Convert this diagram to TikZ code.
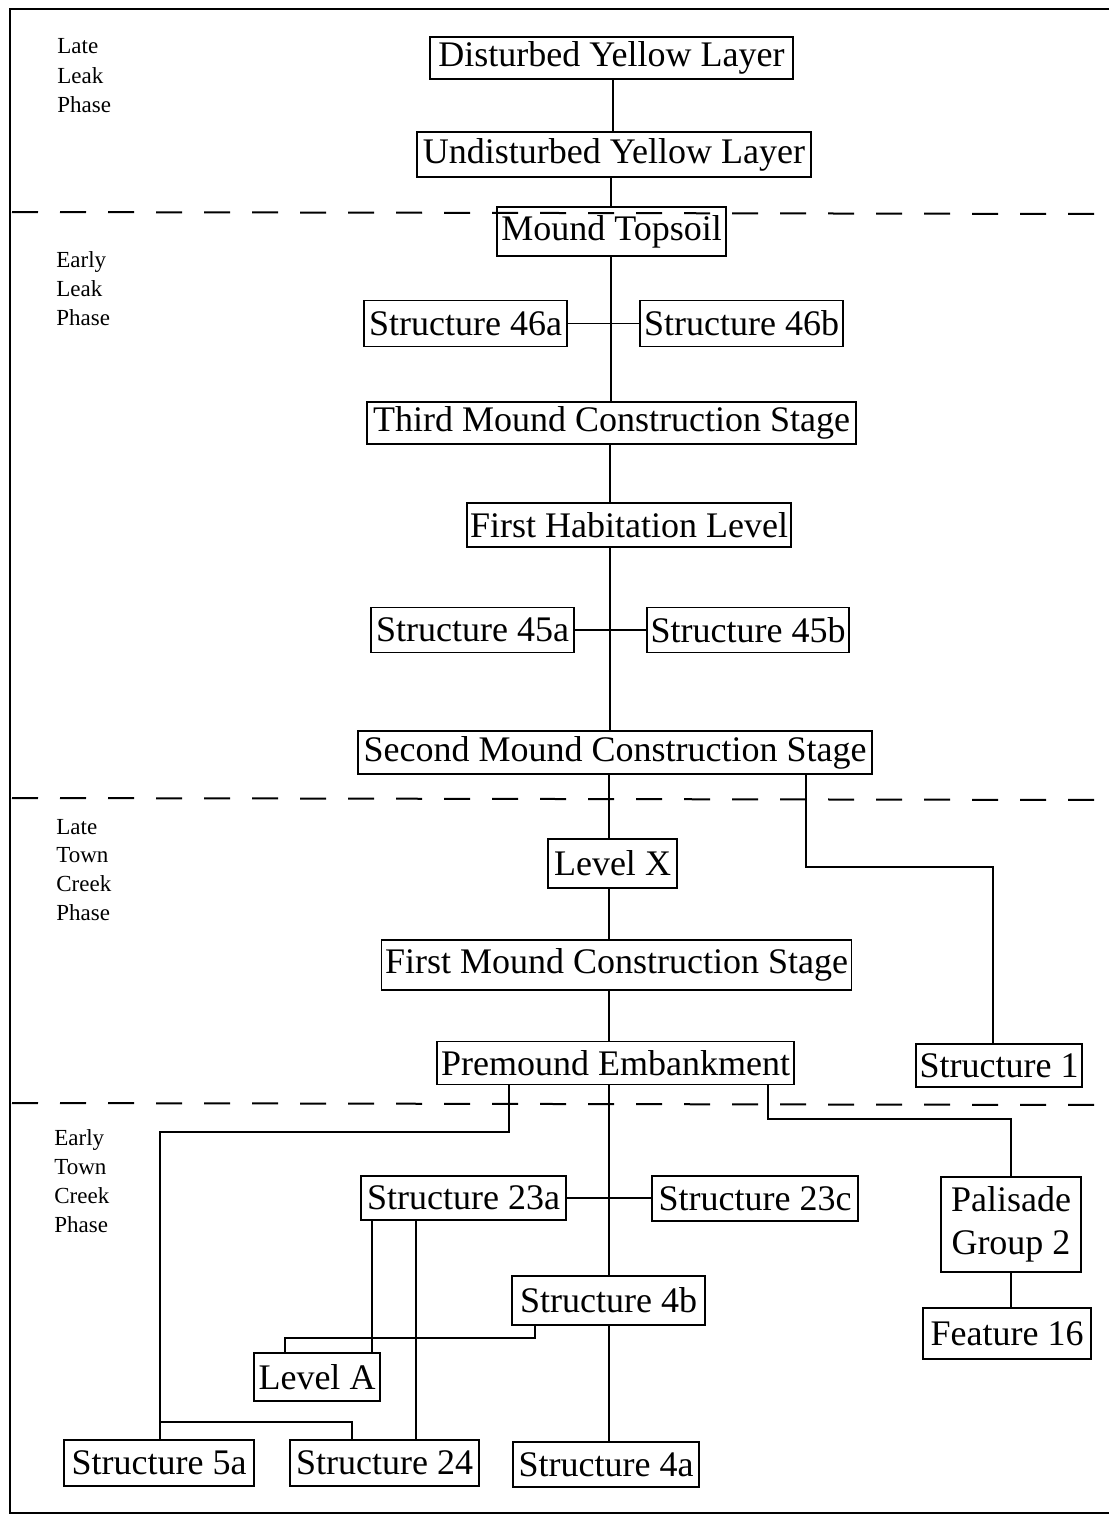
\documentclass[tikz,border=0pt]{standalone}
\usepackage{fontspec}
\setmainfont{Liberation Serif}
\begin{document}
\begin{tikzpicture}[x=0.5pt, y=-0.5pt,
  unit/.style={draw, line width=0.9pt, inner sep=0pt, align=center,
    font=\fontsize{18}{21.5}\selectfont},
  phase/.style={anchor=base west, inner sep=0pt,
    font=\fontsize{11.5}{14}\selectfont},
  link/.style={line width=0.9pt},
  divider/.style={line width=1pt, dash pattern=on 13pt off 11pt}]

\useasboundingbox (0,0) rectangle (1109,1515);

% frame
\draw[line width=1.1pt] (1109,9) -- (10,9) -- (10,1513) -- (1109,1513);

% phase dividers
\draw[divider] (12,212) -- (1109,214);
\draw[divider] (12,798) -- (1109,800);
\draw[divider] (12,1103) -- (1109,1105);

% phase labels
\node[phase] (l1a) at (57,54) {Late};
\node[phase] (l1b) at (57,83) {Leak};
\node[phase] (l1c) at (57,112) {Phase};
\node[phase] (l2a) at (56,267) {Early};
\node[phase] (l2b) at (56,296) {Leak};
\node[phase] (l2c) at (56,325) {Phase};
\node[phase] (l3a) at (56,834) {Late};
\node[phase] (l3b) at (56,862) {Town};
\node[phase] (l3c) at (56,891) {Creek};
\node[phase] (l3d) at (56,920) {Phase};
\node[phase] (l4a) at (54,1145) {Early};
\node[phase] (l4b) at (54,1174) {Town};
\node[phase] (l4c) at (54,1203) {Creek};
\node[phase] (l4d) at (54,1232) {Phase};

% stratigraphic units
\node[unit, minimum width=181.5pt, minimum height=21pt]   (dyl)  at (611.5,58)   {Disturbed Yellow Layer};
\node[unit, minimum width=197pt,   minimum height=22.5pt] (uyl)  at (614,154.5)  {Undisturbed Yellow Layer};
\node[unit, minimum width=114.5pt, minimum height=24.5pt] (mt)   at (611.5,231.5) {Mound Topsoil};
\node[unit, minimum width=101.5pt, minimum height=23pt]   (s46a) at (465.5,323.5) {Structure 46a};
\node[unit, minimum width=101.5pt, minimum height=23pt]   (s46b) at (741.5,323.5) {Structure 46b};
\node[unit, minimum width=244.5pt, minimum height=21pt]   (tmcs) at (611.5,423)  {Third Mound Construction Stage};
\node[unit, minimum width=162pt,   minimum height=22pt]   (fhl)  at (629,525)    {First Habitation Level};
\node[unit, minimum width=101.5pt, minimum height=22.5pt] (s45a) at (472.5,630)  {Structure 45a};
\node[unit, minimum width=101pt,   minimum height=22.5pt] (s45b) at (748,630)    {Structure 45b};
\node[unit, minimum width=257pt,   minimum height=21.5pt] (smcs) at (615,752.5)  {Second Mound Construction Stage};
\node[unit, minimum width=64.5pt,  minimum height=24.5pt] (lx)   at (612.5,863.5) {Level X};
\node[unit, minimum width=235pt,   minimum height=25pt]   (fmcs) at (616.5,965)  {First Mound Construction Stage};
\node[unit, minimum width=178.5pt, minimum height=21.5pt] (pe)   at (615.5,1063) {Premound Embankment};
\node[unit, minimum width=83pt,    minimum height=21.5pt] (s1)   at (999,1065.5) {Structure 1};
\node[unit, minimum width=102.5pt, minimum height=22pt]   (s23a) at (463.5,1198) {Structure 23a};
\node[unit, minimum width=103pt,   minimum height=22.5pt] (s23c) at (755,1198.5) {Structure 23c};
\node[unit, minimum width=70pt,    minimum height=47.5pt] (pg2)  at (1011,1224.5) {Palisade\\Group 2};
\node[unit, minimum width=96.5pt,  minimum height=24.5pt] (s4b)  at (608.5,1300.5) {Structure 4b};
\node[unit, minimum width=84pt,    minimum height=25.5pt] (f16)  at (1007,1333.5) {Feature 16};
\node[unit, minimum width=63pt,    minimum height=24pt]   (la)   at (317,1377)   {Level A};
\node[unit, minimum width=95pt,    minimum height=23pt]   (s5a)  at (159,1463)   {Structure 5a};
\node[unit, minimum width=94.5pt,  minimum height=23pt]   (s24)  at (384.5,1463) {Structure 24};
\node[unit, minimum width=93pt,    minimum height=22.5pt] (s4a)  at (606,1464.5) {Structure 4a};

% guide coordinates for the vertical runs and elbows
\coordinate (spA) at (613,0);
\coordinate (spB) at (611,0);
\coordinate (spC) at (610,0);
\coordinate (spD) at (609,0);
\coordinate (k1) at (806,867);
\coordinate (k2) at (993,867);
\coordinate (p1) at (509,1132);
\coordinate (p2) at (160,1132);
\coordinate (q1) at (160,1422);
\coordinate (q2) at (352,1422);
\coordinate (r1) at (768,1119);
\coordinate (r2) at (1011,1119);
\coordinate (t1) at (372,0);
\coordinate (t2) at (416,0);
\coordinate (u1) at (535,1338);
\coordinate (u2) at (285,1338);

% main sequence
\draw[link] (dyl.south -| spA) -- (uyl.north -| spA);
\draw[link] (uyl.south -| spB) -- (mt.north -| spB);
\draw[link] (mt.south -| spB) -- (tmcs.north -| spB);
\draw[link] (s46a.east) -- (s46a.east -| s46b.west);
\draw[link] (tmcs.south -| spC) -- (fhl.north -| spC);
\draw[link] (fhl.south -| spC) -- (smcs.north -| spC);
\draw[link] (s45a.east) -- (s45a.east -| s45b.west);
\draw[link] (smcs.south -| spD) -- (lx.north -| spD);
\draw[link] (lx.south -| spD) -- (fmcs.north -| spD);
\draw[link] (fmcs.south -| spD) -- (pe.north -| spD);
\draw[link] (pe.south -| spD) -- (s4b.north -| spD);
\draw[link] (s23a.east) -- (s23a.east -| s23c.west);
\draw[link] (s4b.south -| spD) -- (s4a.north -| spD);

% side branches
\draw[link] (smcs.south -| k1) -- (k1) -- (k2) -- (s1.north -| k2);
\draw[link] (pe.south -| p1) -- (p1) -- (p2) -- (s5a.north -| p2);
\draw[link] (q1) -- (q2) -- (s24.north -| q2);
\draw[link] (pe.south -| r1) -- (r1) -- (r2) -- (pg2.north -| r2);
\draw[link] (pg2.south -| r2) -- (f16.north -| r2);
\draw[link] (s23a.south -| t1) -- (la.north -| t1);
\draw[link] (s23a.south -| t2) -- (s24.north -| t2);
\draw[link] (s4b.south -| u1) -- (u1) -- (u2) -- (la.north -| u2);

\end{tikzpicture}
\end{document}
